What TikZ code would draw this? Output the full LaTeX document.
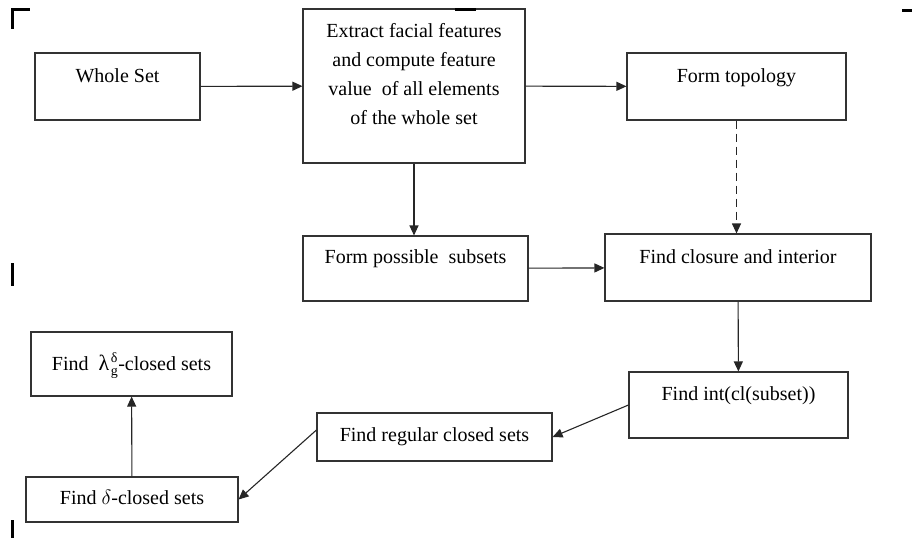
\documentclass[tikz,border=0pt]{standalone}
\usepackage{fontspec}
\setmainfont{Liberation Serif}
\usetikzlibrary{arrows.meta}
\newcommand{\smallup}[1]{\mbox{\fontsize{14}{14}\selectfont #1}}
\newcommand{\lamdg}{{\fontsize{22}{22}\selectfont λ}\kern1.5pt$^{\smallup{δ}}_{\smallup{g}}$}

\begin{document}
\begin{tikzpicture}[x=1pt, y=-1pt,
  every node/.style={font={\fontsize{20}{29.3}\selectfont}, draw=black!80, line width=1.1pt, rectangle, inner sep=0pt},
  box/.style={text height=14pt, text depth=#1},
  box/.default=5pt,
  link/.style={draw=black!85, line width=1.1pt, -{Triangle[length=10pt,width=9pt]}},
  cropmark/.style={fill=black, draw=none}]
\useasboundingbox (0,0) rectangle (912,538);
\node[box=23pt, minimum width=165, minimum height=67] (whole) at (117.5,86.5) {Whole Set};
\node[align=center, text depth=24pt, minimum width=222, minimum height=154] (extract) at (414,86) {Extract facial features\\and compute feature\\value\ \ of all elements\\of the whole set};
\node[box=23pt, minimum width=219, minimum height=67] (topology) at (736.5,86.5) {Form topology};
\node[box=25pt, minimum width=225, minimum height=65] (subsets) at (415.5,268.5) {Form possible\ \ subsets};
\node[box=23pt, minimum width=266, minimum height=67] (closure) at (738,267.5) {Find closure and interior};
\node[box=24pt, minimum width=219, minimum height=66] (intcl) at (738.5,405) {Find int(cl(subset))};
\node[box=6pt, minimum width=235, minimum height=48] (regular) at (434.5,437) {Find regular closed sets};
\node[box=2pt, minimum width=201, minimum height=64] (lambda) at (131.5,364) {Find\ \ \lamdg-closed sets};
\node[box=5pt, minimum width=212, minimum height=45] (delta) at (132,499.5) {Find $\delta$-closed sets};
\path[link] (whole) -- (extract);
\path[link] (extract) -- (topology);
\path[link] (extract.south) -- (extract.south |- subsets.north);
\path[link, dash pattern=on 8pt off 5pt] (topology.south) -- (topology.south |- closure.north);
\path[link] (subsets) -- (closure);
\path[link] (closure) -- (intcl);
\path[link] (intcl.west) -- (regular.east);
\path[link] ([yshift=7pt]regular.west) -- (delta.east);
\path[link] (delta) -- (lambda);
% scan marks
\path[cropmark] (11,8) rectangle (30,11);
\path[cropmark] (11,8) rectangle (14,29);
\path[cropmark] (455,8) rectangle (476,11);
\path[cropmark] (902,9) rectangle (912,12);
\path[cropmark] (11,263) rectangle (14,286);
\path[cropmark] (11,520) rectangle (14,538);
\end{tikzpicture}
\end{document}
